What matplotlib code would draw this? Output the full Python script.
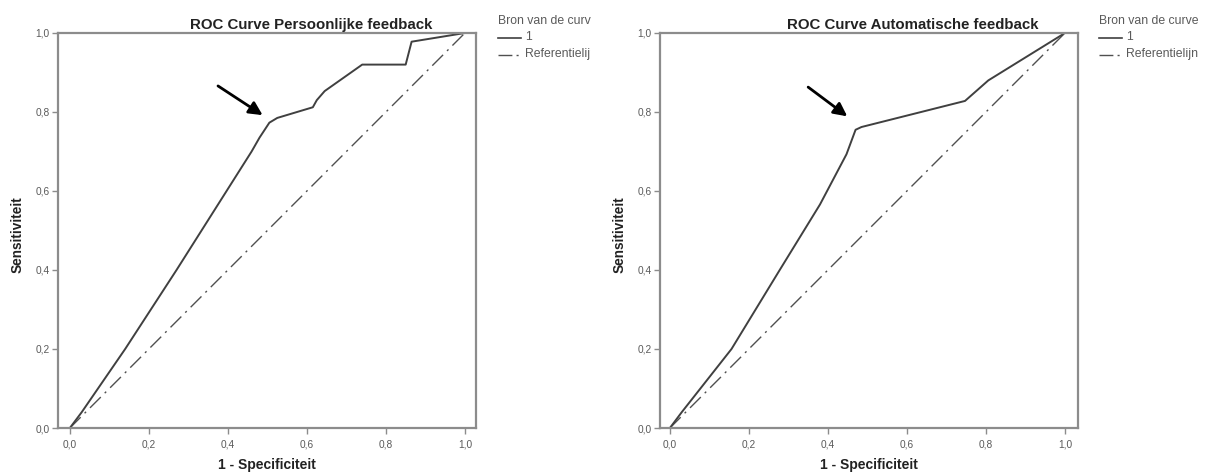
import matplotlib
matplotlib.use('Agg')
import matplotlib.pyplot as plt
from matplotlib.lines import Line2D
from matplotlib.transforms import Bbox

plt.rcParams.update({
    'font.family': ['Liberation Sans', 'DejaVu Sans'],
    'figure.facecolor': 'white',
})

# ROC data
x_pers = [0.0, 0.03, 0.14, 0.27, 0.46, 0.48, 0.505, 0.525, 0.615, 0.625, 0.645, 0.74, 0.85, 0.865, 1.0]
y_pers = [0.0, 0.04, 0.20, 0.40, 0.70, 0.735, 0.773, 0.785, 0.812, 0.83, 0.853, 0.92, 0.92, 0.978, 1.0]

x_auto = [0.0, 0.03, 0.156, 0.278, 0.38, 0.447, 0.47, 0.485, 0.747, 0.806, 1.0]
y_auto = [0.0, 0.04, 0.20, 0.40, 0.566, 0.693, 0.755, 0.762, 0.828, 0.88, 1.0]

x_ref = [0.0, 1.0]
y_ref = [0.0, 1.0]

ticks = [0.0, 0.2, 0.4, 0.6, 0.8, 1.0]
tick_labels = ['0,0', '0,2', '0,4', '0,6', '0,8', '1,0']

titles = ['ROC Curve Persoonlijke feedback', 'ROC Curve Automatische feedback']
legend_title = 'Bron van de curve'
legend_labels = ['1', 'Referentielijn']

# arrow (tail, head) in data coords
arrows = [((0.375, 0.866), (0.488, 0.792)),
          ((0.350, 0.863), (0.449, 0.789))]

W, H = 1211, 475
fig = plt.figure(figsize=(W / 100, H / 100), dpi=100)

FRAME = '#8c8c8c'
CURVE = '#404040'
REF = '#505050'
TXT = '#5a5a5a'
DASH = (11, 4, 1.5, 4)


def fx(px):
    return px / W


def fy(py):
    return 1 - py / H


def legend(x_px, clip_px):
    clip = Bbox.from_extents(0, 0, clip_px, H)
    items = []
    items.append(fig.text(fx(x_px), fy(21.5), legend_title, fontsize=8.8,
                          color=TXT, va='center', ha='left'))
    l1 = Line2D([fx(x_px), fx(x_px + 23)], [fy(37.5), fy(37.5)],
                transform=fig.transFigure, color=CURVE, lw=1.2)
    l2 = Line2D([fx(x_px), fx(x_px + 23)], [fy(54.5), fy(54.5)],
                transform=fig.transFigure, color=REF, lw=1.0,
                dashes=(10, 3, 1.5, 3))
    fig.add_artist(l1)
    fig.add_artist(l2)
    items.append(fig.text(fx(x_px + 27), fy(37.5), legend_labels[0], fontsize=8.8,
                          color=TXT, va='center', ha='left'))
    items.append(fig.text(fx(x_px + 27), fy(54.5), legend_labels[1], fontsize=8.8,
                          color=TXT, va='center', ha='left'))
    for it in items + [l1, l2]:
        it.set_clip_box(clip)
        it.set_clip_on(True)


panels = [
    (58, (-0.030, 1.028), x_pers, y_pers),
    (660, (-0.025, 1.033), x_auto, y_auto),
]

for i, (left_px, xlim, xs, ys) in enumerate(panels):
    ax = fig.add_axes([fx(left_px), 1 - 428 / H, 418 / W, 395 / H])
    ax.plot(x_ref, y_ref, color=REF, lw=1.0, dashes=DASH)
    ax.plot(xs, ys, color=CURVE, lw=1.4)
    ax.set_xlim(*xlim)
    ax.set_ylim(0, 1)
    ax.set_xticks(ticks)
    ax.set_xticklabels(tick_labels)
    ax.set_yticks(ticks)
    ax.set_yticklabels(tick_labels)
    ax.tick_params(axis='both', length=4, width=1.0, color=FRAME,
                   labelsize=7.3, labelcolor=TXT, pad=2)
    ax.tick_params(axis='x', pad=4)
    for s in ax.spines.values():
        s.set_color(FRAME)
        s.set_linewidth(1.6)
    ax.set_title(titles[i], fontsize=10.8, fontweight='bold', color='#222222',
                 x=0.605, pad=3)
    ax.set_xlabel('1 - Specificiteit', fontsize=10, fontweight='bold', color='#222222')
    ax.set_ylabel('Sensitiviteit', fontsize=9.8, fontweight='bold', color='#222222')
    ax.xaxis.set_label_coords(0.5, -0.075)
    ax.yaxis.set_label_coords(-0.08, 0.49)
    tail, head = arrows[i]
    ax.annotate('', xy=head, xytext=tail,
                arrowprops=dict(arrowstyle='-|>', color='black', lw=2.0,
                                mutation_scale=20, shrinkA=0, shrinkB=0))

legend(498, 591)
legend(1099, W)

fig.savefig('out.png', dpi=100)
